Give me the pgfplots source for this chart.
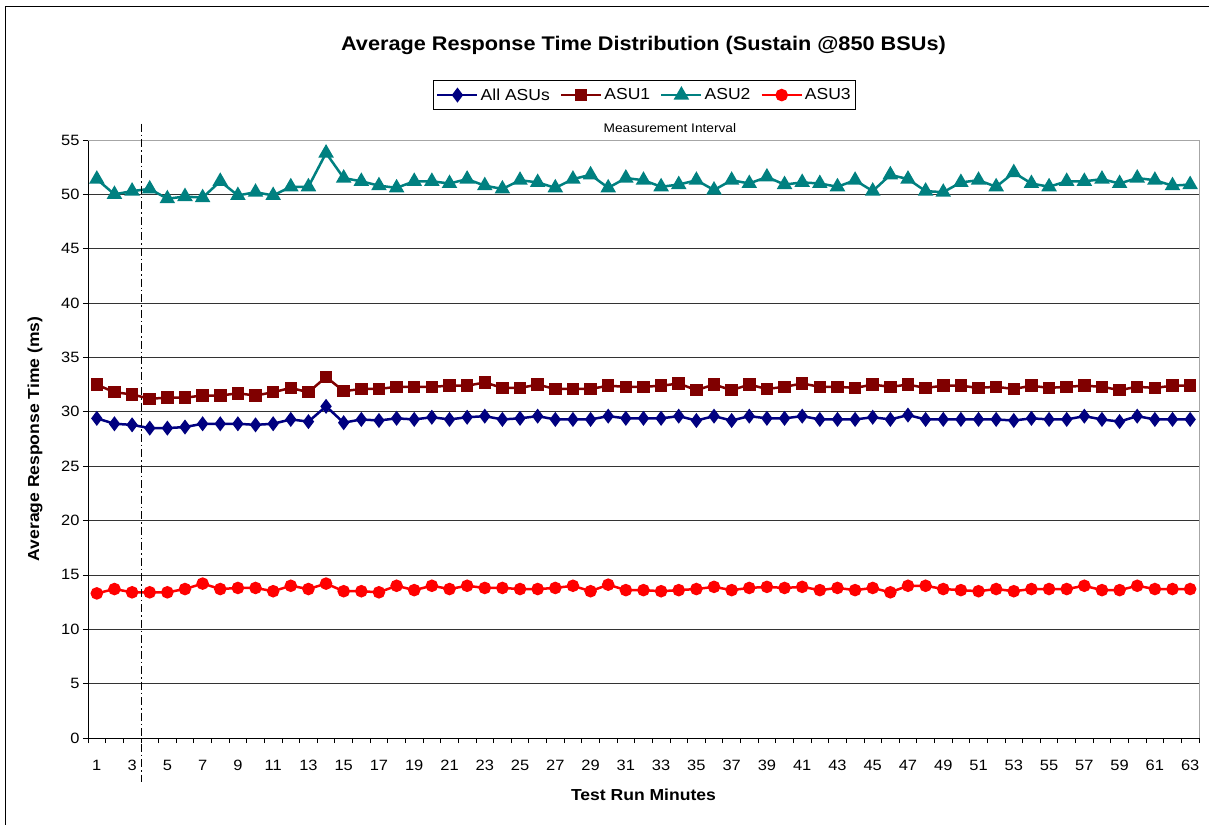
\documentclass[border=0pt]{standalone}
\usepackage{fontspec}
\setmainfont{Liberation Sans}[FakeStretch=1.1]
\usepackage{pgfplots}
\usepackage{pgfplotstable}
\pgfplotsset{compat=1.18}
\definecolor{cAll}{RGB}{0,0,128}
\definecolor{cA1}{RGB}{128,0,0}
\definecolor{cA2}{RGB}{0,128,128}
\definecolor{cA3}{RGB}{255,0,0}
\pgfplotstableread{
x all asu1 asu2 asu3
1 29.4 32.5 51.4 13.3
2 28.9 31.8 50.0 13.7
3 28.8 31.6 50.3 13.4
4 28.5 31.2 50.5 13.4
5 28.5 31.3 49.6 13.4
6 28.6 31.3 49.8 13.7
7 28.9 31.5 49.7 14.2
8 28.9 31.5 51.2 13.7
9 28.9 31.7 49.9 13.8
10 28.8 31.5 50.2 13.8
11 28.9 31.8 49.9 13.5
12 29.3 32.2 50.7 14.0
13 29.1 31.8 50.7 13.7
14 30.5 33.2 53.8 14.2
15 29.0 31.9 51.5 13.5
16 29.3 32.1 51.2 13.5
17 29.2 32.1 50.8 13.4
18 29.4 32.3 50.6 14.0
19 29.3 32.3 51.2 13.6
20 29.5 32.3 51.2 14.0
21 29.3 32.4 51.0 13.7
22 29.5 32.4 51.4 14.0
23 29.6 32.7 50.8 13.8
24 29.3 32.2 50.5 13.8
25 29.4 32.2 51.3 13.7
26 29.6 32.5 51.1 13.7
27 29.3 32.1 50.6 13.8
28 29.3 32.1 51.4 14.0
29 29.3 32.1 51.8 13.5
30 29.6 32.4 50.6 14.1
31 29.4 32.3 51.5 13.6
32 29.4 32.3 51.3 13.6
33 29.4 32.4 50.7 13.5
34 29.6 32.6 50.9 13.6
35 29.2 32.0 51.3 13.7
36 29.6 32.5 50.4 13.9
37 29.2 32.0 51.3 13.6
38 29.6 32.5 51.0 13.8
39 29.4 32.1 51.6 13.9
40 29.4 32.3 50.9 13.8
41 29.6 32.6 51.1 13.9
42 29.3 32.3 51.0 13.6
43 29.3 32.3 50.7 13.8
44 29.3 32.2 51.3 13.6
45 29.5 32.5 50.3 13.8
46 29.3 32.3 51.8 13.4
47 29.7 32.5 51.4 14.0
48 29.3 32.2 50.3 14.0
49 29.3 32.4 50.2 13.7
50 29.3 32.4 51.1 13.6
51 29.3 32.2 51.3 13.5
52 29.3 32.3 50.7 13.7
53 29.2 32.1 52.0 13.5
54 29.4 32.4 51.0 13.7
55 29.3 32.2 50.7 13.7
56 29.3 32.3 51.2 13.7
57 29.6 32.4 51.2 14.0
58 29.3 32.3 51.4 13.6
59 29.1 32.0 51.0 13.6
60 29.6 32.3 51.5 14.0
61 29.3 32.2 51.3 13.7
62 29.3 32.4 50.8 13.7
63 29.3 32.4 50.9 13.7
}\data
\begin{document}
\begin{tikzpicture}
\useasboundingbox (0,0) rectangle (1209bp,825bp);
\fill[white] (0,0) rectangle (1209bp,825bp);
\draw[black, line width=1bp] (5.5bp,-20bp) -- (5.5bp,818.5bp) -- (1240bp,818.5bp);
\begin{axis}[
  at={(88bp,87bp)}, anchor=south west,
  scale only axis, width=1111bp, height=598bp,
  xmin=0.5, xmax=63.5, ymin=0, ymax=55,
  axis x line*=bottom, axis y line*=left,
  axis line style={black, line width=0.8bp},
  xtick={1,3,...,63}, ytick={0,5,...,55},
  minor xtick={0.5,1.5,...,63.5},
  major x tick style={draw=none},
  minor x tick style={black, line width=0.8bp},
  y tick style={black, line width=0.8bp},
  tick align=outside,
  major tick length=5bp, minor tick length=5bp,
  ymajorgrids, grid style={black!80, line width=0.8bp},
  /pgf/number format/assume math mode=true,
  tick label style={font=\fontsize{15}{17}\selectfont},
  xticklabel style={yshift=-14bp},
  clip=false,
  legend columns=4,
  legend style={at={(0.5,1)}, anchor=south, xshift=1bp, yshift=30bp, draw=black, line width=0.8bp,
    font=\fontsize{16}{18}\selectfont, inner xsep=3bp, inner ysep=6bp,
    /tikz/every even column/.append style={column sep=8bp}},
  legend image code/.code={\draw[mark repeat=2,mark phase=2,#1] plot coordinates {(0bp,0bp) (20bp,0bp) (40bp,0bp)};},
  every axis plot/.append style={line width=2.5bp, mark options={solid}},
]
\addplot[color=cAll, mark=diamond*, mark size=5.5bp] table[x=x,y=all] {\data};
\addlegendentry{All ASUs}
\addplot[color=cA1, mark=square*, mark size=5bp] table[x=x,y=asu1] {\data};
\addlegendentry{ASU1}
\addplot[color=cA2, mark=triangle*, mark size=6.5bp] table[x=x,y=asu2] {\data};
\addlegendentry{ASU2}
\addplot[color=cA3, mark=*, mark size=5bp] table[x=x,y=asu3] {\data};
\addlegendentry{ASU3}
\draw[gray!70, line width=0.8bp] (rel axis cs:0,1) -- (rel axis cs:1,1) -- (rel axis cs:1,0);
\draw[black, line width=0.8bp, dash pattern=on 8bp off 3bp on 1.5bp off 3bp] (axis cs:3.5,56.5) -- (axis cs:3.5,-4.05);
\node[anchor=base, font=\fontsize{12.5}{14}\selectfont] at (axis cs:33.5,55) [yshift=7bp] {Measurement Interval};
\node[font=\bfseries\fontsize{19.8}{22}\selectfont] at (rel axis cs:0.5,1) [yshift=95bp] {Average Response Time Distribution (Sustain @850 BSUs)};
\node[font=\bfseries\fontsize{16}{18}\selectfont] at (rel axis cs:0.5,0) [yshift=-57bp] {Test Run Minutes};
\node[font=\bfseries\fontsize{16}{18}\selectfont, rotate=90] at (axis cs:-2.5,27.5) {Average Response Time (ms)};
\end{axis}
\end{tikzpicture}
\end{document}
